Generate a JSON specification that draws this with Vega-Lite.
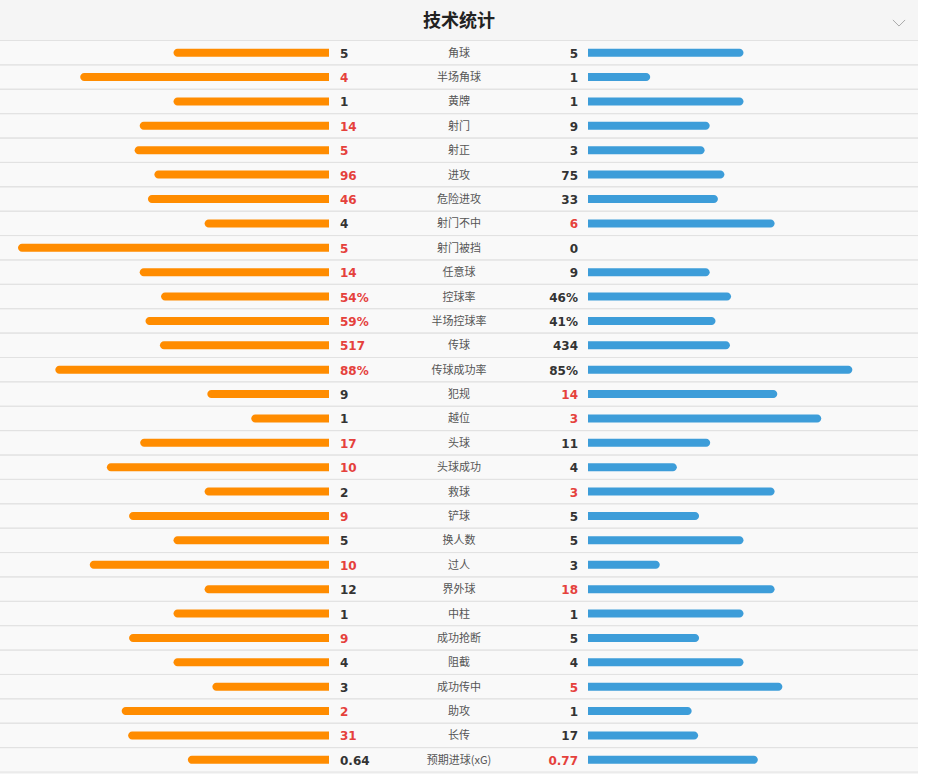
{
  "$schema": "https://vega.github.io/schema/vega-lite/v6.json",
  "width": 918,
  "height": 774,
  "autosize": "none",
  "padding": {"left": 0, "top": 0, "right": 12, "bottom": 0},
  "background": "#ffffff",
  "config": {"view": {"stroke": null, "fill": "#f5f5f5"}},
  "data": {
    "values": [
      {"stat": "角球", "h": 5, "a": 5, "pct": false},
      {"stat": "半场角球", "h": 4, "a": 1, "pct": false},
      {"stat": "黄牌", "h": 1, "a": 1, "pct": false},
      {"stat": "射门", "h": 14, "a": 9, "pct": false},
      {"stat": "射正", "h": 5, "a": 3, "pct": false},
      {"stat": "进攻", "h": 96, "a": 75, "pct": false},
      {"stat": "危险进攻", "h": 46, "a": 33, "pct": false},
      {"stat": "射门不中", "h": 4, "a": 6, "pct": false},
      {"stat": "射门被挡", "h": 5, "a": 0, "pct": false},
      {"stat": "任意球", "h": 14, "a": 9, "pct": false},
      {"stat": "控球率", "h": 54, "a": 46, "pct": true},
      {"stat": "半场控球率", "h": 59, "a": 41, "pct": true},
      {"stat": "传球", "h": 517, "a": 434, "pct": false},
      {"stat": "传球成功率", "h": 88, "a": 85, "pct": true},
      {"stat": "犯规", "h": 9, "a": 14, "pct": false},
      {"stat": "越位", "h": 1, "a": 3, "pct": false},
      {"stat": "头球", "h": 17, "a": 11, "pct": false},
      {"stat": "头球成功", "h": 10, "a": 4, "pct": false},
      {"stat": "救球", "h": 2, "a": 3, "pct": false},
      {"stat": "铲球", "h": 9, "a": 5, "pct": false},
      {"stat": "换人数", "h": 5, "a": 5, "pct": false},
      {"stat": "过人", "h": 10, "a": 3, "pct": false},
      {"stat": "界外球", "h": 12, "a": 18, "pct": false},
      {"stat": "中柱", "h": 1, "a": 1, "pct": false},
      {"stat": "成功抢断", "h": 9, "a": 5, "pct": false},
      {"stat": "阻截", "h": 4, "a": 4, "pct": false},
      {"stat": "成功传中", "h": 3, "a": 5, "pct": false},
      {"stat": "助攻", "h": 2, "a": 1, "pct": false},
      {"stat": "长传", "h": 31, "a": 17, "pct": false},
      {"stat": "预期进球(xG)", "h": 0.64, "a": 0.77, "pct": false}
    ]
  },
  "transform": [
    {"calculate": "datum.pct ? datum.h / 100 : datum.h / (datum.h + datum.a)", "as": "hs"},
    {"calculate": "datum.pct ? datum.a / 100 : datum.a / (datum.h + datum.a)", "as": "as"},
    {"calculate": "datum.h + (datum.pct ? '%' : '')", "as": "hLabel"},
    {"calculate": "datum.a + (datum.pct ? '%' : '')", "as": "aLabel"}
  ],
  "encoding": {
    "y": {
      "field": "stat",
      "type": "nominal",
      "sort": null,
      "axis": null,
      "scale": {"range": [40.5, 772], "paddingInner": 0, "paddingOuter": 0}
    }
  },
  "resolve": {"scale": {"x": "independent", "y": "independent"}},
  "layer": [
    {
      "mark": {"type": "bar", "color": "#f9f9f9"}
    },
    {
      "mark": {"type": "rule", "color": "#e2e2e2", "strokeWidth": 1},
      "encoding": {"y": {"field": "stat", "type": "nominal", "sort": null, "bandPosition": 0, "axis": null, "scale": {"range": [40.5, 772], "paddingInner": 0, "paddingOuter": 0}}}
    },
    {
      "mark": {"type": "rule", "color": "#e2e2e2", "strokeWidth": 1},
      "encoding": {"y": {"field": "stat", "type": "nominal", "sort": null, "bandPosition": 1, "axis": null, "scale": {"range": [40.5, 772], "paddingInner": 0, "paddingOuter": 0}}}
    },
    {
      "mark": {"type": "bar", "color": "#ff8c00", "size": 8, "cornerRadiusTopLeft": 4, "cornerRadiusBottomLeft": 4},
      "encoding": {
        "x": {"field": "hs", "type": "quantitative", "axis": null, "scale": {"domain": [0, 1], "range": [329, 18]}},
        "x2": {"datum": 0}
      }
    },
    {
      "mark": {"type": "bar", "color": "#3d9dd9", "size": 8, "cornerRadiusTopRight": 4, "cornerRadiusBottomRight": 4},
      "encoding": {
        "x": {"field": "as", "type": "quantitative", "axis": null, "scale": {"domain": [0, 1], "range": [588, 899]}},
        "x2": {"datum": 0}
      }
    },
    {
      "mark": {"type": "text", "align": "left", "baseline": "middle", "dy": 1, "font": "DejaVu Sans", "fontWeight": "bold", "fontSize": 12},
      "encoding": {
        "x": {"datum": -1, "type": "quantitative", "axis": null, "scale": {"domain": [-1, 1], "range": [340, 578]}},
        "text": {"field": "hLabel"},
        "color": {"condition": {"test": "datum.h > datum.a", "value": "#e5413c"}, "value": "#333333"}
      }
    },
    {
      "mark": {"type": "text", "align": "right", "baseline": "middle", "dy": 1, "font": "DejaVu Sans", "fontWeight": "bold", "fontSize": 12},
      "encoding": {
        "x": {"datum": 1, "type": "quantitative", "axis": null, "scale": {"domain": [-1, 1], "range": [340, 578]}},
        "text": {"field": "aLabel"},
        "color": {"condition": {"test": "datum.a > datum.h", "value": "#e5413c"}, "value": "#333333"}
      }
    },
    {
      "mark": {"type": "text", "align": "center", "baseline": "middle", "dy": 1, "font": "Noto Sans CJK SC", "fontSize": 11, "color": "#555555"},
      "encoding": {
        "x": {"datum": 0, "type": "quantitative", "axis": null, "scale": {"domain": [-1, 1], "range": [340, 578]}},
        "text": {"field": "stat"}
      }
    },
    {
      "data": {"values": [{"heading": "技术统计", "hx": 459, "hy": 22}]},
      "mark": {"type": "text", "align": "center", "baseline": "middle", "font": "Noto Sans CJK SC", "fontSize": 18, "fontWeight": "bold", "color": "#222222"},
      "encoding": {
        "x": {"field": "hx", "type": "quantitative", "axis": null, "scale": {"domain": [0, 918], "range": [0, 918]}},
        "y": {"field": "hy", "type": "quantitative", "axis": null, "scale": {"domain": [0, 774], "range": [0, 774]}},
        "text": {"field": "heading"}
      }
    },
    {
      "data": {"values": [{"cx": 899, "cy": 23}]},
      "mark": {"type": "point", "shape": "M-1,-0.5L0,0.5L1,-0.5", "filled": false, "size": 150, "strokeWidth": 1, "color": "#aaaaaa", "opacity": 1},
      "encoding": {
        "x": {"field": "cx", "type": "quantitative", "axis": null, "scale": {"domain": [0, 918], "range": [0, 918]}},
        "y": {"field": "cy", "type": "quantitative", "axis": null, "scale": {"domain": [0, 774], "range": [0, 774]}}
      }
    }
  ]
}
